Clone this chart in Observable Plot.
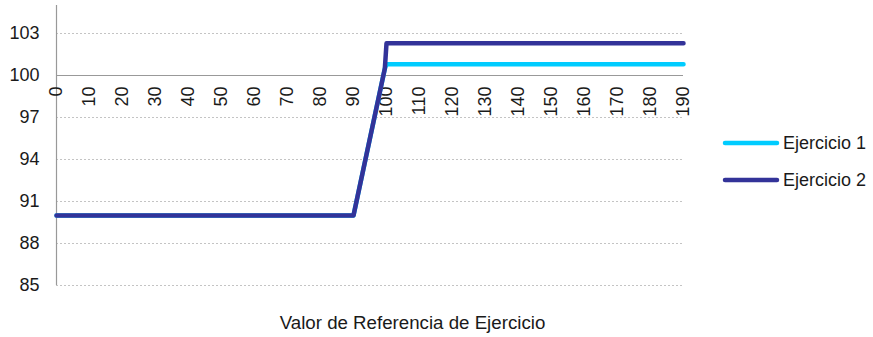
<!DOCTYPE html>
<html>
<head>
<meta charset="utf-8">
<script src="https://cdn.jsdelivr.net/npm/d3@7"></script>
<script src="https://cdn.jsdelivr.net/npm/@observablehq/plot@0.6"></script>
<style>
  html, body { margin: 0; padding: 0; background: #fff; }
  #wrap { position: relative; width: 873px; height: 337px; font-family: "Liberation Sans", Arial, sans-serif; color: #1a1a1a; }
  #title { position: absolute; left: 0; width: 825px; top: 313px; text-align: center; font-size: 18.7px; line-height: 20px; }
  #legend { position: absolute; left: 0; top: 0; }
</style>
</head>
<body>
<div id="wrap"></div>
<script>
// ---- data ----
const xTicks = [0,10,20,30,40,50,60,70,80,90,100,110,120,130,140,150,160,170,180,190];
const yTicks = [85,88,91,94,97,100,103];
const seriesNames = ["Ejercicio 1", "Ejercicio 2"];
const seriesColors = ["#00CCFF", "#333399"];
const ej1X = [0, 90, 99.5, 100, 190];
const ej1Y = [90, 90, 100.5, 100.8, 100.8];
const ej2X = [0, 90, 99.5, 100, 190];
const ej2Y = [90, 90, 100.5, 102.3, 102.3];
const xTitle = "Valor de Referencia de Ejercicio";

const rows = [
  ...ej1X.map((x, i) => ({series: seriesNames[0], x, y: ej1Y[i]})),
  ...ej2X.map((x, i) => ({series: seriesNames[1], x, y: ej2Y[i]}))
];
const gridTicks = yTicks.filter(d => d !== 100);

const chart = Plot.plot({
  width: 873,
  height: 337,
  marginLeft: 56,
  marginRight: 190,
  marginTop: 5,
  marginBottom: 52,
  style: {fontFamily: "'Liberation Sans', Arial, sans-serif", fontSize: "18px", color: "#1a1a1a", background: "#fff"},
  x: {domain: [0, 190], axis: null},
  y: {domain: [85, 105]},
  color: {domain: seriesNames, range: seriesColors},
  marks: [
    Plot.ruleY(gridTicks, {stroke: "#c4c4c4", strokeDasharray: "2,2", strokeWidth: 1}),
    Plot.ruleY([100], {stroke: "#999", strokeWidth: 1.2}),
    Plot.ruleX([0], {stroke: "#999", strokeWidth: 1.2}),
    Plot.axisY({ticks: yTicks, tickSize: 0, tickPadding: 17, fontSize: 18, label: null, tickFormat: d => String(d)}),
    Plot.text(xTicks, {x: d => d, y: () => 100, text: d => String(d), rotate: -90, textAnchor: "end", lineAnchor: "middle", dy: 11, fontSize: 18, fill: "#1a1a1a"}),
    Plot.line(rows, {x: "x", y: "y", z: "series", stroke: "series", strokeWidth: 4.5, strokeLinecap: "round", strokeLinejoin: "round"})
  ]
});

const wrap = document.getElementById("wrap");
wrap.appendChild(chart);

const title = document.createElement("div");
title.id = "title";
title.textContent = xTitle;
wrap.appendChild(title);

// legend
const ns = "http://www.w3.org/2000/svg";
const leg = document.createElementNS(ns, "svg");
leg.setAttribute("id", "legend");
leg.setAttribute("width", 873);
leg.setAttribute("height", 337);
leg.style.position = "absolute";
leg.style.left = "0px";
leg.style.top = "0px";
seriesNames.forEach((name, i) => {
  const cy = 143 + i * 37;
  const ln = document.createElementNS(ns, "line");
  ln.setAttribute("x1", 725); ln.setAttribute("x2", 777);
  ln.setAttribute("y1", cy); ln.setAttribute("y2", cy);
  ln.setAttribute("stroke", seriesColors[i]);
  ln.setAttribute("stroke-width", 4.5);
  ln.setAttribute("stroke-linecap", "round");
  leg.appendChild(ln);
  const t = document.createElementNS(ns, "text");
  t.setAttribute("x", 783);
  t.setAttribute("y", cy + 6);
  t.setAttribute("font-size", 18);
  t.setAttribute("font-family", "'Liberation Sans', Arial, sans-serif");
  t.setAttribute("fill", "#1a1a1a");
  t.textContent = name;
  leg.appendChild(t);
});
wrap.appendChild(leg);
</script>
</body>
</html>
